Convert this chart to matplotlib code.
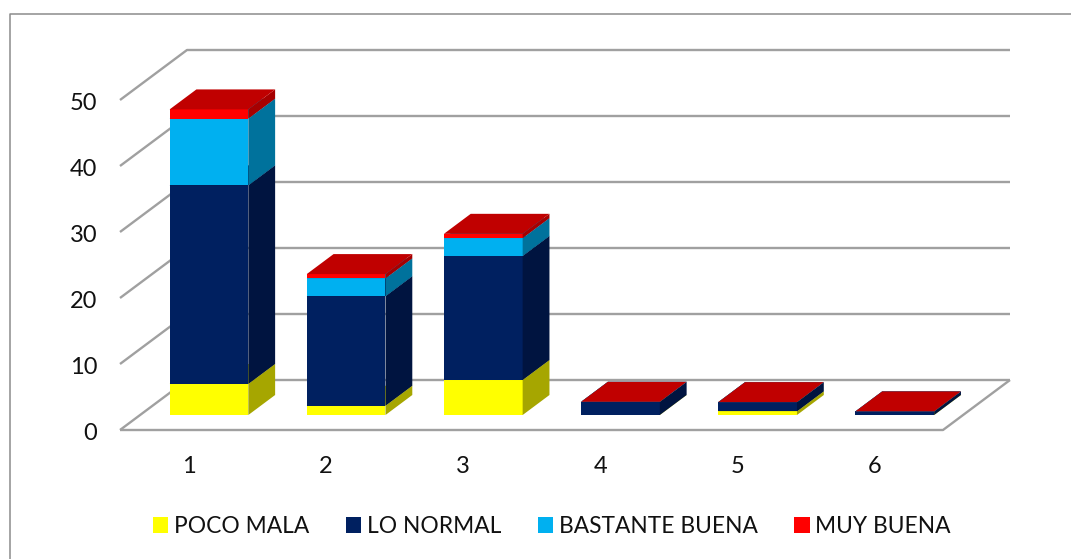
import matplotlib
matplotlib.use('Agg')
import matplotlib.pyplot as plt
from matplotlib.lines import Line2D
from matplotlib.patches import Patch, Polygon
from matplotlib.transforms import ScaledTranslation

plt.rcParams['font.family'] = ['Lato', 'DejaVu Sans']

categories = [1, 2, 3, 4, 5, 6]
poco_mala = [4.7, 1.4, 5.3, 0, 0.55, 0]
lo_normal = [30.1, 16.6, 18.8, 2, 1.4, 0.55]
bastante_buena = [10.1, 2.7, 2.7, 0, 0, 0]
muy_buena = [1.4, 0.65, 0.65, 0, 0, 0]
y_ticks = [0, 10, 20, 30, 40, 50]

series_names = ['POCO MALA', 'LO NORMAL', 'BASTANTE BUENA', 'MUY BUENA']
series_values = [poco_mala, lo_normal, bastante_buena, muy_buena]
front_colors = ['#ffff00', '#002060', '#00b0f0', '#ff0000']
side_colors = ['#a6a600', '#001440', '#00729c', '#a60000']
top_colors = ['#c8c800', '#001a50', '#0090c4', '#c00000']
grid_color = '#a0a0a0'

W, H = 1071, 559
# oblique depth of the floor, in data units (category widths, value units)
DEPTH_X = 67 / (823 / 6)
DEPTH_Y = 50 / 6.6
BAR_W = 0.574
BAR_NUDGE = 0.002
BAR_START = 0.3
BAR_DEPTH = 0.4


def shift(x, v, d):
    # move a point d of the way back through the depth of the box
    return x + d * DEPTH_X, v + d * DEPTH_Y


fig = plt.figure(figsize=(W / 100, H / 100), dpi=100)
ax = fig.add_axes([120 / W, 1 - 430 / H, 823 / W, 330 / H])
ax.set_xlim(0.5, 6.5)
ax.set_ylim(0, 50)
for s in ax.spines.values():
    s.set_visible(False)
ax.patch.set_visible(False)

ax.set_xticks(categories)
ax.set_yticks(y_ticks)
ax.tick_params(axis='both', length=0, labelsize=17, colors='#111111')
ax.tick_params(axis='x', pad=18.5)
ax.tick_params(axis='y', pad=16.5)

# Lato sits a little high compared to the original font
nudge = ScaledTranslation(0, -0.8 / 72, fig.dpi_scale_trans)
for lab in ax.get_yticklabels():
    lab.set_transform(lab.get_transform() + nudge)

# wall and floor lines
x0, x1 = ax.get_xlim()
for v in y_ticks:
    xs = [x0, shift(x0, v, 1)[0], shift(x1, v, 1)[0]]
    ys = [v, shift(x0, v, 1)[1], shift(x1, v, 1)[1]]
    ax.plot(xs, ys, color=grid_color, lw=1.7, clip_on=False, solid_capstyle='butt', zorder=1)
ax.plot([x0, x1, shift(x1, 0, 1)[0]], [0, 0, shift(x1, 0, 1)[1]], color=grid_color, lw=1.7,
        clip_on=False, solid_capstyle='butt', zorder=1)

# stacked bars, drawn back to front by hand because they are oblique
z = 2
for i, cat in enumerate(categories):
    cx = shift(cat, 0, BAR_START)[0] + BAR_NUDGE
    bottom = shift(cat, 0, BAR_START)[1]
    left = cx - BAR_W / 2
    right = cx + BAR_W / 2
    for vals, fc, sc, tc in zip(series_values, front_colors, side_colors, top_colors):
        top = bottom + vals[i]
        ax.bar(cx, vals[i], BAR_W, bottom=bottom, color=fc, lw=0, clip_on=False, zorder=z)
        side = [(right, bottom), (right, top), shift(right, top, BAR_DEPTH), shift(right, bottom, BAR_DEPTH)]
        ax.add_patch(Polygon(side, closed=True, fc=sc, ec='none', clip_on=False, zorder=z))
        roof = [(left, top), (right, top), shift(right, top, BAR_DEPTH), shift(left, top, BAR_DEPTH)]
        ax.add_patch(Polygon(roof, closed=True, fc=tc, ec='none', clip_on=False, zorder=z))
        z += 1
        bottom = top

# chart frame, only top and left show
fig.add_artist(Line2D([9.5 / W, 9.5 / W, 1], [0, 1 - 13.5 / H, 1 - 13.5 / H], color='#8c8c8c', lw=1.1))

handles = [Patch(fc=c, ec='none') for c in front_colors]
fig.legend(handles, series_names, ncol=4, loc='center', bbox_to_anchor=(552 / W, 1 - 526.5 / H),
           frameon=False, fontsize=16.4, handlelength=0.67, handleheight=0.67, handletextpad=0.25,
           columnspacing=1.61, labelcolor='#111111', borderpad=0, borderaxespad=0)

fig.savefig('out.png', dpi=100)
